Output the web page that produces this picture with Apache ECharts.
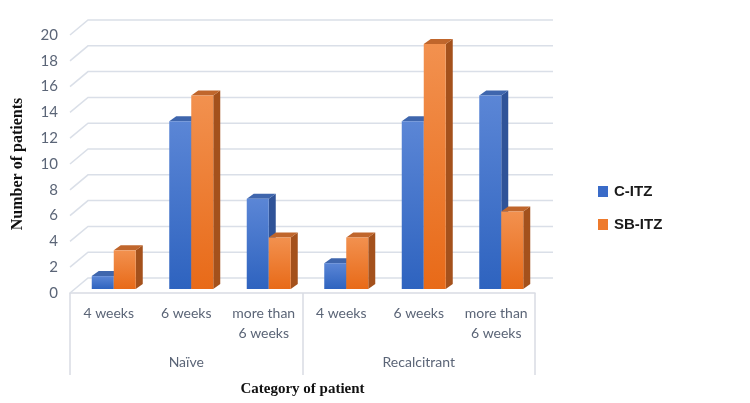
<!DOCTYPE html>
<html>
<head>
<meta charset="utf-8">
<script src="https://cdn.jsdelivr.net/npm/echarts@6/dist/echarts.min.js"></script>
<style>html,body{margin:0;padding:0;background:#fff}#c{width:750px;height:403px}</style>
</head>
<body>
<div id="c"></div>
<script>
var categories = ['4 weeks', '6 weeks', 'more than\n6 weeks', '4 weeks', '6 weeks', 'more than\n6 weeks'];
var groups = ['Naïve', 'Recalcitrant'];
var seriesNames = ['C-ITZ', 'SB-ITZ'];
var cItz = [1, 13, 7, 2, 13, 15];
var sbItz = [3, 15, 4, 4, 19, 6];
var yTicks = [0, 2, 4, 6, 8, 10, 12, 14, 16, 18, 20];

var chart = echarts.init(document.getElementById('c'), null, {renderer: 'canvas'});

var DX = 7, DY = -5, BW = 22, SHIFT_X = 5, SHIFT_Y = -4;
var palettes = [
  {top: '#5b86d6', bottom: '#2e63bf', side: '#2f5398', cap: '#3f66ad'},
  {top: '#f2914f', bottom: '#e86a18', side: '#a4511c', cap: '#c0662c'}
];

function barRender(si) {
  return function (params, api) {
    var idx = api.value(0), v = api.value(1);
    var pTop = api.coord([idx, v]);
    var pBase = api.coord([idx, 0]);
    var cx = pBase[0] + SHIFT_X;
    var left = si === 0 ? cx - BW : cx;
    var right = left + BW;
    var yb = pBase[1] + SHIFT_Y;
    var yt = pTop[1] + SHIFT_Y;
    var pal = palettes[si];
    return {
      type: 'group',
      children: [
        {type: 'polygon', shape: {points: [[right, yt], [right + DX, yt + DY], [right + DX, yb + DY], [right, yb]]},
         style: {fill: pal.side}},
        {type: 'polygon', shape: {points: [[left, yt], [right, yt], [right + DX, yt + DY], [left + DX, yt + DY]]},
         style: {fill: pal.cap}},
        {type: 'rect', shape: {x: left, y: yt, width: BW, height: yb - yt},
         style: {fill: new echarts.graphic.LinearGradient(0, 0, 0, 1, [{offset: 0, color: pal.top}, {offset: 1, color: pal.bottom}])}}
      ]
    };
  };
}

function gridRender(params, api) {
  var v = api.value(0);
  var cs = params.coordSys;
  var y = api.coord([0, v])[1];
  var x0 = cs.x;
  var x1 = cs.x + cs.width + 18;
  return {
    type: 'polyline',
    shape: {points: [[x0, y], [x0 + 18, y - 15], [x1, y - 15]]},
    style: {stroke: '#dadfe8', lineWidth: 1.5, fill: null}
  };
}

var axisColor = '#5b6577';

chart.setOption({
  animation: false,
  backgroundColor: '#ffffff',
  grid: {left: 70, right: 215, top: 35, bottom: 110, containLabel: false, outerBoundsMode: 'none'},
  legend: {
    orient: 'vertical', left: 593, top: 179,
    itemWidth: 10, itemHeight: 11, itemGap: 18,
    icon: 'rect',
    textStyle: {fontFamily: 'Liberation Sans', fontWeight: 'bold', fontSize: 15, color: '#1a1a1a', lineHeight: 15, padding: [0, 0, 0, 1]},
    data: seriesNames
  },
  xAxis: [
    {
      type: 'category', data: categories, position: 'bottom',
      axisLine: {show: true, lineStyle: {color: '#d9dce3', width: 1.5}},
      axisTick: {show: false},
      axisLabel: {color: axisColor, fontFamily: 'Lato', fontSize: 14, lineHeight: 20, margin: 10, interval: 0}
    },
    {
      type: 'category', data: groups, position: 'bottom',
      axisLine: {show: false},
      axisTick: {show: true, length: 82, lineStyle: {color: '#d9dce3', width: 1.5}},
      axisLabel: {color: axisColor, fontFamily: 'Lato', fontSize: 14, margin: 62},
      name: 'Category of patient', nameLocation: 'middle', nameGap: 89,
      nameTextStyle: {fontFamily: 'Liberation Serif', fontWeight: 'bold', fontSize: 15, color: '#111'}
    }
  ],
  yAxis: {
    type: 'value', min: 0, max: 20, interval: 2,
    axisLine: {show: false}, axisTick: {show: false}, splitLine: {show: false},
    axisLabel: {color: axisColor, fontFamily: 'Lato', fontSize: 15, margin: 12},
    name: 'Number of patients', nameLocation: 'middle', nameGap: 44, nameRotate: 90,
    nameTextStyle: {fontFamily: 'Liberation Serif', fontWeight: 'bold', fontSize: 16, color: '#111'}
  },
  series: [
    {
      type: 'custom', name: '__grid', z: 1, silent: true,
      renderItem: gridRender,
      data: yTicks.map(function (t) { return [t]; }),
      encode: {y: 0}
    },
    {
      type: 'custom', name: seriesNames[0], z: 2,
      itemStyle: {color: '#3a6bc8'},
      renderItem: barRender(0),
      data: cItz.map(function (v, i) { return [i, v]; }),
      encode: {x: 0, y: 1}
    },
    {
      type: 'custom', name: seriesNames[1], z: 3,
      itemStyle: {color: '#ee7a2c'},
      renderItem: barRender(1),
      data: sbItz.map(function (v, i) { return [i, v]; }),
      encode: {x: 0, y: 1}
    }
  ]
});
</script>
</body>
</html>
